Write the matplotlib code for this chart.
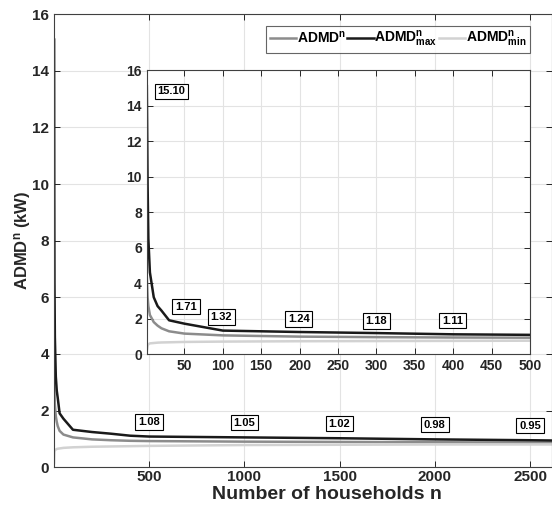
import matplotlib
matplotlib.use("Agg")
import matplotlib.pyplot as plt

plt.rcParams['font.family'] = ['Liberation Sans', 'DejaVu Sans']
plt.rcParams['font.weight'] = 'bold'
plt.rcParams['mathtext.fontset'] = 'custom'
plt.rcParams['mathtext.bf'] = 'Liberation Sans:bold'
plt.rcParams['mathtext.rm'] = 'Liberation Sans:bold'
plt.rcParams['mathtext.it'] = 'Liberation Sans:bold'
plt.rcParams['mathtext.default'] = 'bf'

# number of households and the three ADMD curves (kW)
n_hh = [1, 2, 3, 5, 10, 15, 20, 30, 50, 100, 200, 300, 400, 500,
        1000, 1500, 2000, 2500, 2620]
admd_max = [15.10, 9.5, 6.5, 4.6, 3.2, 2.7, 2.45, 1.9, 1.71, 1.32, 1.24,
            1.18, 1.11, 1.08, 1.05, 1.02, 0.98, 0.95, 0.94]
admd_mean = [4.3, 3.2, 2.7, 2.2, 1.8, 1.6, 1.45, 1.28, 1.15, 1.05, 0.98,
             0.95, 0.93, 0.92, 0.90, 0.89, 0.88, 0.87, 0.87]
admd_min = [0.15, 0.45, 0.55, 0.6, 0.62, 0.64, 0.65, 0.66, 0.68, 0.70, 0.72,
            0.73, 0.74, 0.75, 0.78, 0.79, 0.80, 0.80, 0.80]

# labelled values
main_lab_n = [500, 1000, 1500, 2000, 2500]
main_lab_v = [1.08, 1.05, 1.02, 0.98, 0.95]
inset_lab_n = [1, 50, 100, 200, 300, 400]
inset_lab_v = [15.10, 1.71, 1.32, 1.24, 1.18, 1.11]

c_mean = '#8c8c8c'
c_max = '#1a1a1a'
c_min = '#d2d2d2'
c_txt = '#262626'
c_grid = '#e3e3e3'

fig = plt.figure(figsize=(5.52, 5.05), dpi=100)


def style(ax, fs):
    ax.grid(True, color=c_grid, linewidth=0.8)
    ax.set_axisbelow(True)
    ax.tick_params(direction='in', top=True, right=True, length=4,
                   width=0.7, colors=c_txt, labelsize=fs)
    for s in ax.spines.values():
        s.set_color('#404040')
        s.set_linewidth(0.8)
    for lab in ax.get_xticklabels() + ax.get_yticklabels():
        lab.set_fontweight('bold')


ax = fig.add_axes([0.098, 0.075, 0.902, 0.897])
l1, = ax.plot(n_hh, admd_mean, color=c_mean, lw=1.8, label='ADMD$^{n}$')
l2, = ax.plot(n_hh, admd_max, color=c_max, lw=1.8, label='ADMD$^{n}_{max}$')
l3, = ax.plot(n_hh, admd_min, color=c_min, lw=1.8, label='ADMD$^{n}_{min}$')
ax.set_xlim(1, 2615)
ax.set_ylim(0, 16)
ax.set_xticks([500, 1000, 1500, 2000, 2500])
ax.set_yticks(range(0, 17, 2))
style(ax, 11)
ax.tick_params(axis='x', pad=2)
ax.set_xlabel('Number of households n', fontsize=14, fontweight='bold',
              color=c_txt)
ax.xaxis.set_label_coords(0.548, -0.041)
ax.set_ylabel('ADMD$^{n}$ (kW)', fontsize=12, fontweight='bold',
              color=c_txt)
ax.yaxis.set_label_coords(-0.043, 0.5)
box = dict(boxstyle='square,pad=0.25', fc='white', ec='black', lw=0.8)
for n, v in zip(main_lab_n, main_lab_v):
    ax.text(n, v + 0.52, f'{v:.2f}', ha='center', va='center', fontsize=8,
            fontweight='bold', bbox=box)

leg = fig.legend(handles=[l1, l2, l3], ncol=3, loc='upper right',
                 bbox_to_anchor=(530 / 552, 1 - 26 / 505), borderaxespad=0,
                 frameon=True, fancybox=False, fontsize=10, handlelength=1.9,
                 handletextpad=0.05, columnspacing=0.1, borderpad=0.25)
leg.get_frame().set_edgecolor('#404040')
leg.get_frame().set_linewidth(0.8)
for t in leg.get_texts():
    t.set_fontweight('bold')

ins = fig.add_axes([0.266, 0.299, 0.694, 0.562])
ins.plot(n_hh, admd_mean, color=c_mean, lw=1.8)
ins.plot(n_hh, admd_max, color=c_max, lw=1.8)
ins.plot(n_hh, admd_min, color=c_min, lw=1.8)
ins.set_xlim(1, 500)
ins.set_ylim(0, 16)
ins.set_xticks(range(50, 501, 50))
ins.set_yticks(range(0, 17, 2))
style(ins, 10)
ins_pos = [(33, 14.8), (52, 2.67), (98, 2.1), (199, 1.97), (300, 1.86),
           (399, 1.88)]
for (x, y), v in zip(ins_pos, inset_lab_v):
    ins.text(x, y, f'{v:.2f}', ha='center', va='center', fontsize=8,
             fontweight='bold', bbox=box)

fig.savefig('out.png', dpi=100)
